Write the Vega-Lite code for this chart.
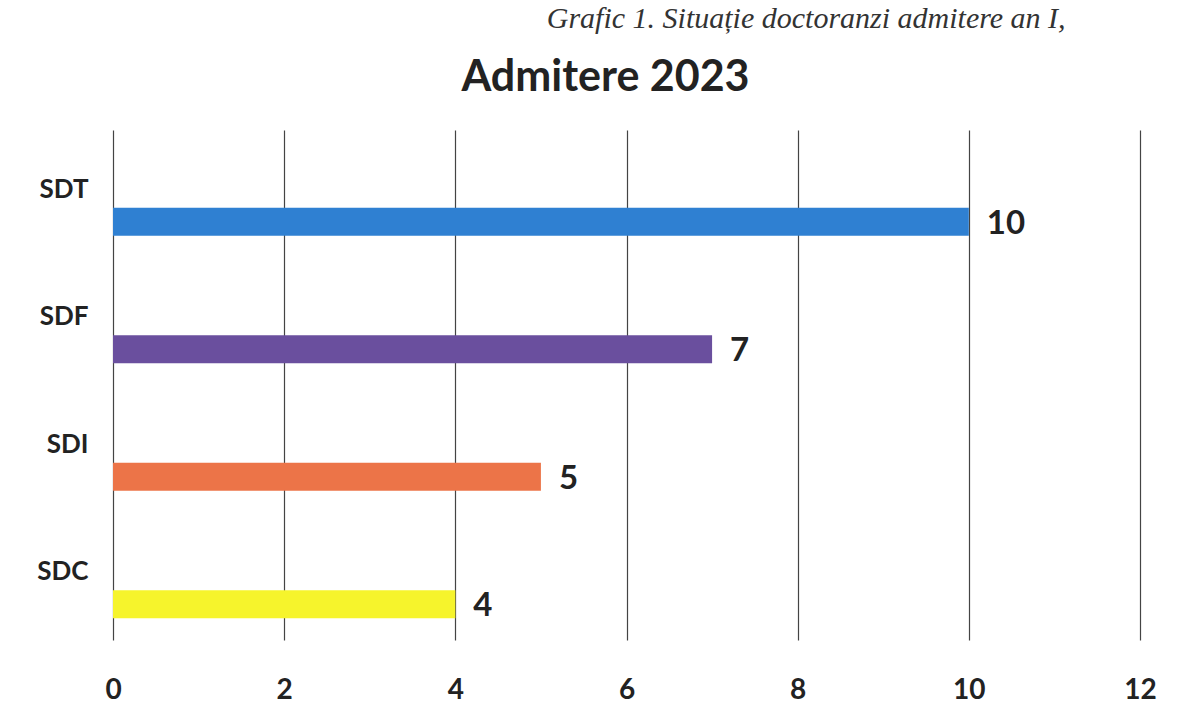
{
  "$schema": "https://vega.github.io/schema/vega-lite/v6.json",
  "width": 1027,
  "height": 510,
  "autosize": "none",
  "padding": {"left": 113, "top": 130, "right": 38, "bottom": 84},
  "background": "white",
  "data": {"values": [
    {"cat": "SDT", "value": 10},
    {"cat": "SDF", "value": 7},
    {"cat": "SDI", "value": 5},
    {"cat": "SDC", "value": 4}
  ]},
  "title": {
    "text": "Grafic 1. Situație doctoranzi admitere an I,",
    "font": "Liberation Serif",
    "fontStyle": "italic",
    "fontWeight": "normal",
    "fontSize": 30,
    "color": "#333",
    "anchor": "start",
    "dx": 510,
    "offset": 22
  },
  "config": {"view": {"stroke": null}},
  "encoding": {
    "y": {
      "field": "cat", "type": "nominal", "sort": ["SDT", "SDF", "SDI", "SDC"],
      "scale": {"paddingInner": 0, "paddingOuter": 0},
      "axis": {"title": null, "domain": false, "ticks": false, "labelFont": "Lato", "labelFontWeight": "bold", "labelFontSize": 26, "labelColor": "#222", "labelPadding": 25, "labelOffset": -4}
    }
  },
  "layer": [
    {
      "mark": {"type": "bar", "size": 28, "yOffset": 28},
      "encoding": {
        "x": {"field": "value", "type": "quantitative", "scale": {"domain": [0, 12]},
          "axis": {"orient": "bottom", "title": null, "values": [0, 2, 4, 6, 8, 10, 12], "grid": true, "gridColor": "#444", "gridWidth": 1.2, "domain": false, "ticks": false, "labelFlush": false, "labelFont": "Lato", "labelFontWeight": "bold", "labelFontSize": 28, "labelColor": "#222", "labelPadding": 36}},
        "color": {"field": "cat", "type": "nominal", "legend": null,
          "scale": {"domain": ["SDT", "SDF", "SDI", "SDC"], "range": ["#2f80d2", "#6a4f9e", "#ec7448", "#f6f42c"]}}
      }
    },
    {
      "mark": {"type": "text", "align": "left", "baseline": "middle", "dx": 18, "yOffset": 30, "font": "Lato", "fontWeight": "bold", "fontSize": 33, "color": "#222"},
      "encoding": {
        "x": {"field": "value", "type": "quantitative", "scale": {"domain": [0, 12]},
          "axis": {"orient": "top", "title": "Admitere 2023", "titleFont": "Lato", "titleFontSize": 43, "titleFontWeight": "bold", "titleColor": "#222", "titleX": 492, "titleY": -40, "titleAlign": "center", "titleBaseline": "alphabetic", "labels": false, "ticks": false, "domain": false, "grid": false}},
        "text": {"field": "value", "type": "quantitative"}
      }
    }
  ],
  "resolve": {"axis": {"x": "independent"}}
}
